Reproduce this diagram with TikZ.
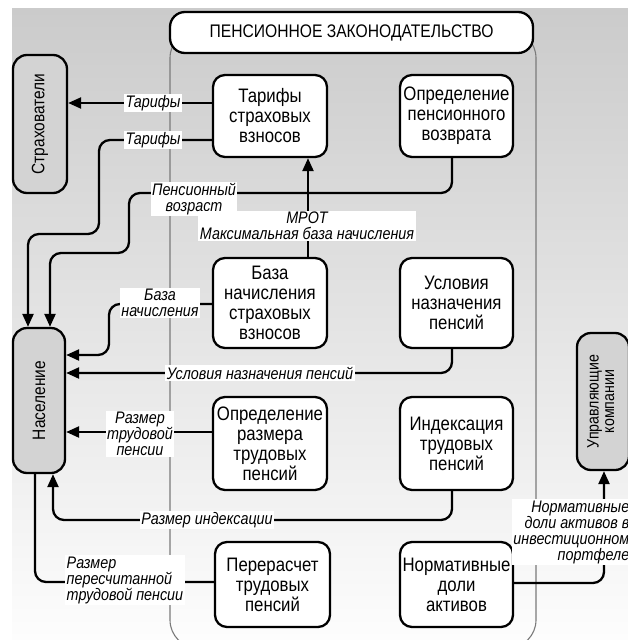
\documentclass[tikz,border=0pt]{standalone}
\usepackage{fontspec}
\setmainfont{Liberation Sans}[FakeStretch=0.86]
\usepackage{tikz}
\usetikzlibrary{arrows.meta,calc}
\definecolor{bgtop}{HTML}{CBCBCB}
\definecolor{bgbot}{HTML}{FDFDFD}
\definecolor{frame}{HTML}{7A7A7A}
\definecolor{actor}{HTML}{D3D3D3}
\tikzset{
  proc/.style={draw, line width=2.3pt, rounded corners=12pt, fill=white, align=center,
    inner sep=1pt, font=\fontsize{19.5}{20}\selectfont},
  actorbox/.style={draw, line width=2.3pt, rounded corners=14pt, fill=actor, inner sep=1pt,
    font=\fontsize{18}{18}\selectfont},
  flow/.style={line width=2.3pt, rounded corners=11pt},
  arr/.style={flow, -{Triangle[length=13pt,width=11pt]}},
  lab/.style={fill=white, inner sep=1.5pt, align=center,
    font=\fontsize{16.7}{16}\selectfont\itshape}
}
\begin{document}
\begin{tikzpicture}[x=1pt, y=-1pt]
  \useasboundingbox (0,0) rectangle (628,640);
  \fill[top color=bgtop, bottom color=bgbot] (12,8) rectangle (628,640);
  % pension legislation frame
  \draw[frame, line width=1.1pt, rounded corners=28pt] (170,30) rectangle (536,648);
  \node[proc, rounded corners=15pt, minimum width=363pt, minimum height=41pt,
    font=\fontsize{18.2}{20}\selectfont] (law) at (351.5,32.5) {ПЕНСИОННОЕ ЗАКОНОДАТЕЛЬСТВО};

  \node[proc, minimum width=114pt, minimum height=82pt] (tarif) at (270,116) {Тарифы\\страховых\\взносов};
  \node[proc, minimum width=113pt, minimum height=82pt] (vozvrat) at (456.5,116) {Определение\\пенсионного\\возврата};
  \node[proc, minimum width=114pt, minimum height=90pt] (baza) at (270,303) {База\\начисления\\страховых\\взносов};
  \node[proc, minimum width=113pt, minimum height=90pt] (uslov) at (456.5,303) {Условия\\назначения\\пенсий};
  \node[proc, minimum width=114pt, minimum height=93pt] (razmer) at (270,443.5) {Определение\\размера\\трудовых\\пенсий};
  \node[proc, minimum width=113pt, minimum height=93pt] (index) at (456.5,443.5) {Индексация\\трудовых\\пенсий};
  \node[proc, minimum width=115pt, minimum height=85pt] (perer) at (272.5,584.5) {Перерасчет\\трудовых\\пенсий};
  \node[proc, minimum width=113pt, minimum height=85pt] (normat) at (456.5,584.5) {Нормативные\\доли\\активов};

  \node[actorbox, minimum width=54pt, minimum height=138pt] (strah) at (40,124) {\rotatebox{90}{Страхователи}};
  \node[actorbox, minimum width=52pt, minimum height=145pt] (nasel) at (39,400.5) {\rotatebox{90}{Население}};
  \node[actorbox, minimum width=52pt, minimum height=137pt, font=\fontsize{16.5}{15.5}\selectfont]
    (upr) at (603,401.5) {\rotatebox{90}{\begin{tabular}{@{}c@{}}Управляющие\\компании\end{tabular}}};

  % flows
  \draw[arr] (tarif.west |- 0,103) -- (strah.east |- 0,103);
  \draw[arr] (tarif.west |- 0,140) -- (99,140) -- (99,234) -- (28,234) -- (28,0 |- nasel.north);
  \draw[arr] (452,0 |- vozvrat.south) -- (452,193) -- (129,193) -- (129,253) -- (50,253) -- (50,0 |- nasel.north);
  \draw[arr] (308,0 |- baza.north) -- (308,0 |- tarif.south);
  \draw[arr] (baza.west |- 0,304) -- (109,304) -- (109,355) -- (nasel.east |- 0,355);
  \draw[arr] (452,0 |- uslov.south) -- (452,373) -- (nasel.east |- 0,373);
  \draw[arr] (razmer.west |- 0,432) -- (nasel.east |- 0,432);
  \draw[arr] (452,0 |- index.south) -- (452,520) -- (53,520) -- (53,0 |- nasel.south);
  \draw[flow] (perer.west |- 0,582) -- (35,582) -- (35,0 |- nasel.south);
  \draw[arr] (normat.east |- 0,583) -- (604,583) -- (604,0 |- upr.south);

  % labels
  \node[lab] (l1) at (153,103) {Тарифы};
  \node[lab] (l2) at (153,140) {Тарифы};
  \node[lab] (l3) at (194,199) {Пенсионный\\возраст};
  \node[lab] (l4) at (307,226) {МРОТ\\Максимальная база начисления};
  \node[lab] (l5) at (160,303) {База\\начисления};
  \node[lab] (l6) at (260,373) {Условия назначения пенсий};
  \node[lab] (l7) at (140,434) {Размер\\трудовой\\пенсии};
  \node[lab] (l8) at (207,520) {Размер индексации};
  \node[lab, align=left, anchor=west] (l9) at (65,580) {Размер\\пересчитанной\\трудовой пенсии};
  \node[lab, align=right, anchor=east] (l10) at (631,532) {Нормативные\\доли активов в\\инвестиционном\\портфеле};
\end{tikzpicture}
\end{document}
